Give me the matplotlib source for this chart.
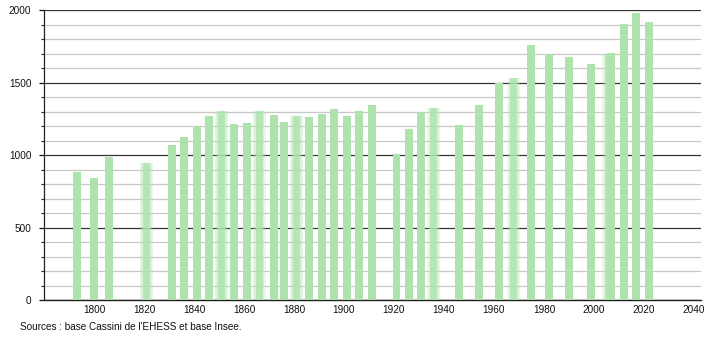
import matplotlib.pyplot as plt
from matplotlib.ticker import MultipleLocator

plt.rcParams['font.family'] = ['Liberation Sans', 'DejaVu Sans']

# Recensements (années) et population
years = [1793, 1800, 1806, 1821, 1831, 1836, 1841, 1846, 1851, 1856,
         1861, 1866, 1872, 1876, 1881, 1886, 1891, 1896, 1901, 1906,
         1911, 1921, 1926, 1931, 1936, 1946, 1954, 1962, 1968, 1975,
         1982, 1990, 1999, 2006, 2007, 2012, 2017, 2022]
population = [884, 842, 987, 946, 1070, 1127, 1201, 1270, 1305, 1215,
              1220, 1305, 1277, 1229, 1270, 1263, 1284, 1319, 1270, 1305,
              1344, 1008, 1181, 1298, 1325, 1208, 1346, 1500, 1530, 1760,
              1696, 1680, 1629, 1700, 1705, 1905, 1979, 1919]
# barres floues sur l'image d'origine
blurred = [1821, 1851, 1866, 1881, 1936, 1968, 2006]

xticks = list(range(1800, 2041, 20))
source = "Sources : base Cassini de l'EHESS et base Insee."

bar_color = '#aee3ae'

fig = plt.figure(figsize=(7.1, 3.4), dpi=100)
ax = fig.add_axes([0.062, 0.1176, 0.9253, 0.8521])

for y, p in zip(years, population):
    if y in blurred:
        # halo clair autour d'un coeur plus dense
        for w in (5.2, 4.2):
            ax.bar(y, p, width=w, color=bar_color, alpha=0.25, linewidth=0, zorder=3)
        ax.bar(y, p, width=2.8, color=bar_color, alpha=0.8, linewidth=0, zorder=3)
    else:
        ax.bar(y, p, width=3.2, color=bar_color, linewidth=0, zorder=3)

ax.set_xlim(1780, 2042.8)
ax.set_ylim(0, 2000)
ax.set_xticks(xticks)
ax.yaxis.set_major_locator(MultipleLocator(500))
ax.yaxis.set_minor_locator(MultipleLocator(100))

ax.grid(axis='y', which='major', color='#333333', linewidth=0.9, zorder=1)
ax.grid(axis='y', which='minor', color='#c8c8c8', linewidth=0.9, zorder=1)
ax.grid(axis='x', visible=False)

for s in ('top', 'right'):
    ax.spines[s].set_visible(False)
ax.spines['left'].set_color('#222222')
ax.spines['bottom'].set_color('#222222')
ax.spines['left'].set_linewidth(0.9)
ax.spines['bottom'].set_linewidth(1.0)

ax.tick_params(axis='x', length=0, pad=3.5, labelsize=7.2, colors='#111111')
ax.tick_params(axis='y', which='major', length=3.6, width=0.9, pad=5.5,
               labelsize=7.2, colors='#111111')
ax.tick_params(axis='y', which='minor', length=2.2, width=0.8, color='#222222')

fig.text(20 / 710, 1 - 327 / 340, source, fontsize=7.2, color='#111111',
         va='center', ha='left')

fig.savefig('out.png', dpi=100)
